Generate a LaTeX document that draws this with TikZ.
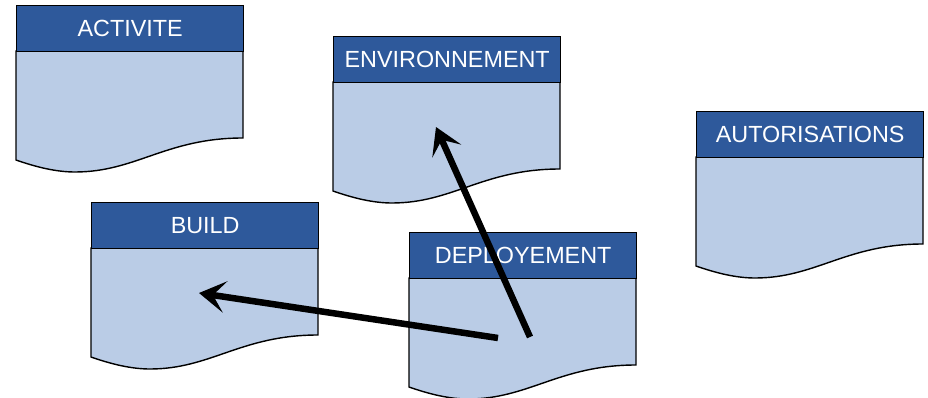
\documentclass[tikz,border=0pt]{standalone}
\usepackage{fontspec}
\newfontfamily\hdrfont{Liberation Sans}
\usepackage{tikz}
\usetikzlibrary{arrows.meta,positioning,calc}

\definecolor{hdrblue}{RGB}{46,89,155}
\definecolor{bodyblue}{RGB}{186,204,230}

\tikzset{
  hdr/.style={draw=black, line width=0.8pt, fill=hdrblue, text=white,
    font=\hdrfont\fontsize{13.3}{15}\selectfont, anchor=north west,
    minimum width=4.54cm, minimum height=0.92cm, inner sep=0pt},
  docbody/.style={draw=black, line width=0.8pt, fill=bodyblue},
  bigarrow/.style={line width=3.7pt,
    -{Stealth[length=15pt, width=18pt, inset=7pt]}}
}

% document shape, top-left corner at (#1,#2)
\newcommand{\docshape}[4]{%
  \begin{scope}[shift={(#1,#2)}]
    \draw[docbody] (0,46) -- (227,46) -- (227,133)
      .. controls (150,133) and (120,167) .. (59,167)
      .. controls (40,167) and (20,162) .. (0,155) -- cycle;
  \end{scope}
  \node[hdr] (#3) at (#1,#2) {#4};
}

\begin{document}
\begin{tikzpicture}[x=0.02cm, y=-0.02cm]
\useasboundingbox (0,0) rectangle (928,398);

\docshape{16}{5}{act}{ACTIVITE}
\docshape{333}{36}{env}{ENVIRONNEMENT}
\docshape{696}{111}{auto}{AUTORISATIONS}
\docshape{91}{202}{build}{BUILD}
\docshape{409}{232}{depl}{DEPLOYEMENT}

% arrow ends
\coordinate (deplA) at (498,338);
\coordinate (deplB) at (530,337);
\coordinate (buildin) at (199,293);
\coordinate (envin) at (436,127);

\draw[bigarrow] (deplA) -- (buildin);
\draw[bigarrow] (deplB) -- (envin);
\end{tikzpicture}
\end{document}
